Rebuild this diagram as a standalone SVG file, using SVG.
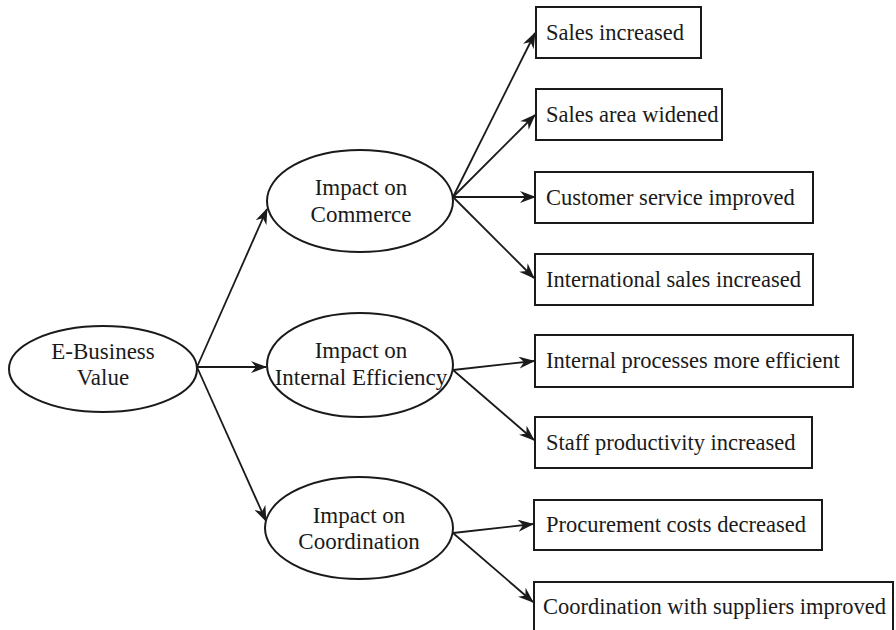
<svg xmlns="http://www.w3.org/2000/svg" width="896" height="630" viewBox="0 0 896 630">
<style>
.node{fill:#fff;stroke:#1a1a1a;stroke-width:2}
.t{font-family:"Liberation Serif","Times New Roman",serif;font-size:22.5px;fill:#1a1a1a}
.c{text-anchor:middle;font-size:23px}
.e{stroke:#1a1a1a;stroke-width:1.8;fill:none;marker-end:url(#ah)}
</style>
<defs>
<marker id="ah" viewBox="0 0 16 12" refX="15" refY="6" markerWidth="16" markerHeight="12" markerUnits="userSpaceOnUse" orient="auto">
<path d="M0,0 L16,6 L0,12 L5,6 z" fill="#1a1a1a"/>
</marker>
</defs>
<rect width="896" height="630" fill="#fff"/>
<g id="connectors">
<path class="e" d="M197,367 L267,209"/>
<path class="e" d="M197,367 L266,367"/>
<path class="e" d="M197,367 L266,521"/>
<path class="e" d="M453,197 L535,33"/>
<path class="e" d="M453,197 L535,115"/>
<path class="e" d="M453,197 L535,197"/>
<path class="e" d="M453,197 L534,278"/>
<path class="e" d="M453,370 L534,361"/>
<path class="e" d="M453,370 L534,440"/>
<path class="e" d="M453,533 L533,524"/>
<path class="e" d="M453,533 L533,602"/>
</g>
<g id="ebusiness"><ellipse class="node" cx="103" cy="369" rx="94" ry="43"/><text class="t c" x="103" y="359">E-Business</text><text class="t c" x="103" y="385">Value</text></g>
<g id="commerce"><ellipse class="node" cx="360" cy="201" rx="93" ry="51"/><text class="t c" x="361" y="195">Impact on</text><text class="t c" x="361" y="222">Commerce</text></g>
<g id="internal"><ellipse class="node" cx="360" cy="365" rx="93" ry="52"/><text class="t c" x="361" y="358">Impact on</text><text class="t c" x="361" y="385">Internal Efficiency</text></g>
<g id="coordination"><ellipse class="node" cx="359" cy="528" rx="94" ry="51"/><text class="t c" x="359" y="523">Impact on</text><text class="t c" x="359" y="549">Coordination</text></g>
<g id="b1"><rect class="node" x="536" y="7" width="165" height="51"/><text class="t" x="546" y="40">Sales increased</text></g>
<g id="b2"><rect class="node" x="536" y="89" width="186" height="51"/><text class="t" x="546" y="122">Sales area widened</text></g>
<g id="b3"><rect class="node" x="535" y="172" width="278" height="51"/><text class="t" x="546" y="205">Customer service improved</text></g>
<g id="b4"><rect class="node" x="535" y="254" width="278" height="51"/><text class="t" x="546" y="287">International sales increased</text></g>
<g id="b5"><rect class="node" x="535" y="335" width="318" height="52"/><text class="t" x="546" y="368">Internal processes more efficient</text></g>
<g id="b6"><rect class="node" x="535" y="417" width="277" height="51"/><text class="t" x="546" y="450">Staff productivity increased</text></g>
<g id="b7"><rect class="node" x="534" y="500" width="288" height="50"/><text class="t" x="546" y="532">Procurement costs decreased</text></g>
<g id="b8"><rect class="node" x="534" y="582" width="359" height="60"/><text class="t" x="543" y="614">Coordination with suppliers improved</text></g>
</svg>
